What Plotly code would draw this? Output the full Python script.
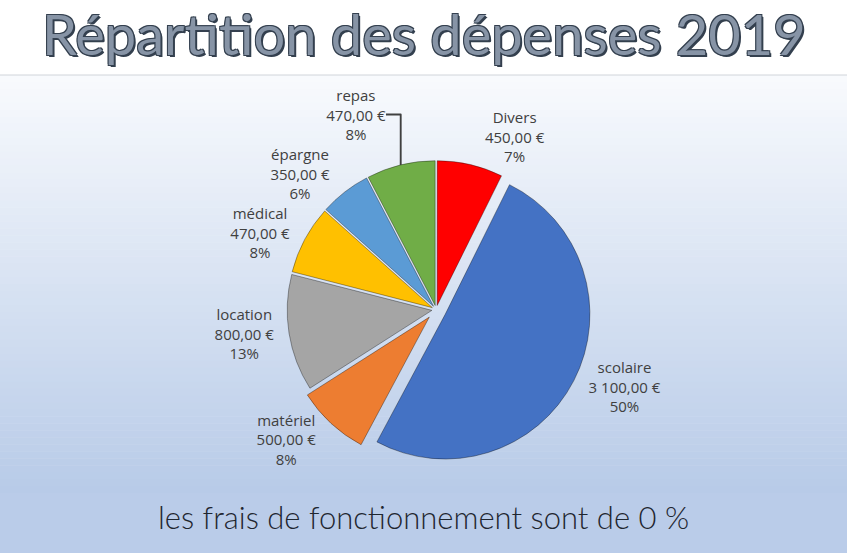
import plotly.graph_objects as go

# Data
categories = ["Divers", "scolaire", "matériel", "location", "médical", "épargne", "repas"]
amounts = [450, 3100, 500, 800, 470, 350, 470]
slice_colors = ["#ff0000", "#4472c4", "#ed7d31", "#a5a5a5", "#ffc000", "#5b9bd5", "#70ad47"]
explode = [0.03, 0.07, 0.07, 0.03, 0.03, 0.03, 0.03]

title_text = "Répartition des dépenses 2019"
footer_text = "les frais de fonctionnement sont de 0 %"

W, H = 847, 553

fig = go.Figure()
fig.add_trace(go.Pie(
    labels=categories,
    values=amounts,
    sort=False,
    direction="clockwise",
    rotation=0,
    pull=explode,
    marker=dict(colors=slice_colors, line=dict(color="rgba(0,0,0,0.35)", width=1)),
    texttemplate="%{label}<br>%{value:,.2f} €<br>%{percent:.0%}",
    textposition="outside",
    outsidetextfont=dict(family="Open Sans", size=15, color="#404040"),
    showlegend=False,
    domain=dict(x=[0.2, 0.83], y=[0.16, 0.72]),
    hoverinfo="skip",
))

shapes = []
# white header
shapes.append(dict(type="rect", xref="paper", yref="paper", x0=0, x1=1,
                   y0=1 - 75 / H, y1=1, fillcolor="#ffffff", line=dict(width=0), layer="below"))
# gradient body
top_px, bot_px = 75, 493
n = 60
c0 = (248, 250, 253)
c1 = (184, 203, 232)
for i in range(n):
    t = i / (n - 1)
    c = tuple(int(round(c0[k] + (c1[k] - c0[k]) * t)) for k in range(3))
    ya = top_px + (bot_px - top_px) * i / n
    yb = top_px + (bot_px - top_px) * (i + 1) / n
    shapes.append(dict(type="rect", xref="paper", yref="paper", x0=0, x1=1,
                       y0=1 - (yb + 0.5) / H, y1=1 - ya / H,
                       fillcolor="rgb(%d,%d,%d)" % c, line=dict(width=0), layer="below"))
# footer band
shapes.append(dict(type="rect", xref="paper", yref="paper", x0=0, x1=1,
                   y0=0, y1=1 - 493 / H, fillcolor="#bacce9", line=dict(width=0), layer="below"))
# separator line under title
shapes.append(dict(type="line", xref="paper", yref="paper", x0=0, x1=1,
                   y0=1 - 75 / H, y1=1 - 75 / H, line=dict(color="#d0d4da", width=1), layer="below"))

outline = "#34404f"
shadow = ("-1px -1px 0 %s, 1px -1px 0 %s, -1px 1px 0 %s, 1px 1px 0 %s, 2px 2px 0 %s"
          % (outline, outline, outline, outline, outline))

fig.update_layout(
    width=W, height=H,
    margin=dict(l=0, r=0, t=0, b=0, autoexpand=False),
    paper_bgcolor="#ffffff",
    separators=", ",
    shapes=shapes,
    annotations=[
        dict(text=title_text, xref="paper", yref="paper", x=0.5, y=1 - 33 / H,
             xanchor="center", yanchor="middle", showarrow=False,
             font=dict(family="Lato", size=56, color="#8794a6", shadow=shadow)),
        dict(text=footer_text, xref="paper", yref="paper", x=0.5, y=1 - 517 / H,
             xanchor="center", yanchor="middle", showarrow=False,
             font=dict(family="Lato", size=31, color="#1f2630", weight=300)),
    ],
)

fig.write_html("out.html",
               config={"displayModeBar": False},
               post_script="document.body.style.margin='0';document.body.style.overflow='hidden';")
